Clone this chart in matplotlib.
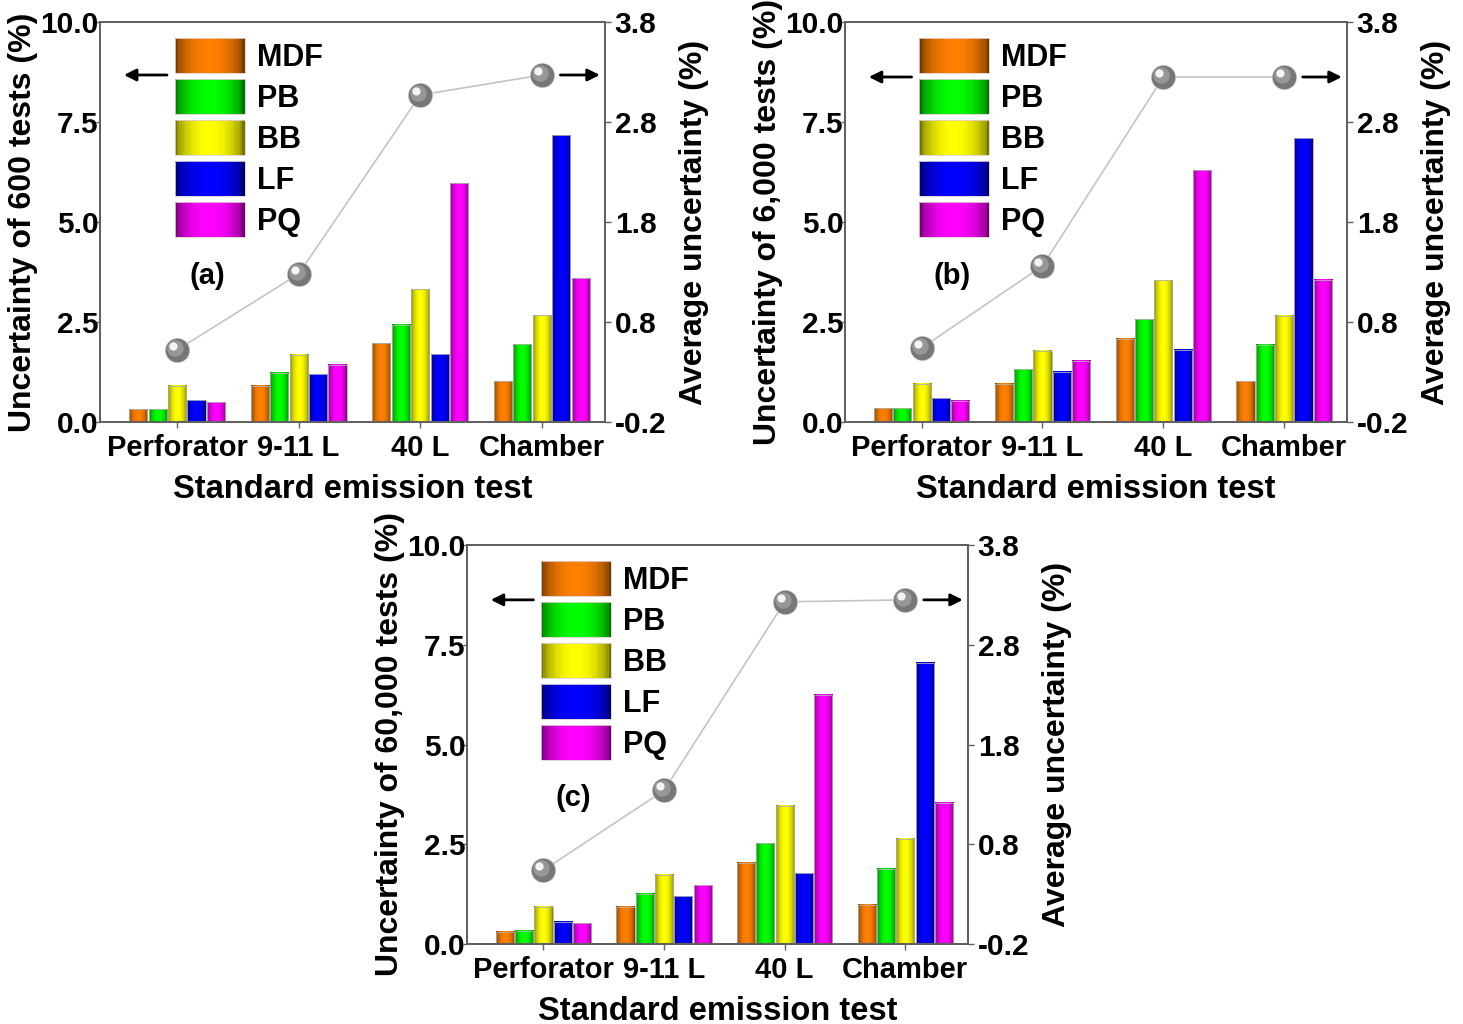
import numpy as np
import matplotlib
matplotlib.use("Agg")
import matplotlib.pyplot as plt
import matplotlib.transforms as mtransforms
from matplotlib.colors import to_rgb
from matplotlib.patches import Patch, Rectangle
from matplotlib.legend_handler import HandlerBase

plt.rcParams["font.family"] = ["Liberation Sans", "DejaVu Sans"]
plt.rcParams["font.weight"] = "bold"
plt.rcParams["axes.labelweight"] = "bold"

tests = ["Perforator", "9-11 L", "40 L", "Chamber"]
boards = ["MDF", "PB", "BB", "LF", "PQ"]
board_colours = ["#ff8000", "#00ff00", "#ffff00", "#0000ff", "#ff00ff"]

# uncertainty (%) per board (rows: MDF, PB, BB, LF, PQ) for each test
unc_600 = [
    [0.32, 0.91, 1.97, 1.02],
    [0.32, 1.23, 2.43, 1.95],
    [0.91, 1.68, 3.32, 2.67],
    [0.55, 1.20, 1.70, 7.17],
    [0.49, 1.43, 5.97, 3.59],
]
unc_6000 = [
    [0.34, 0.96, 2.08, 1.02],
    [0.34, 1.32, 2.57, 1.93],
    [0.96, 1.78, 3.54, 2.66],
    [0.59, 1.26, 1.81, 7.10],
    [0.53, 1.53, 6.30, 3.56],
]
unc_60000 = [
    [0.31, 0.93, 2.04, 0.98],
    [0.33, 1.26, 2.52, 1.89],
    [0.93, 1.73, 3.47, 2.64],
    [0.56, 1.20, 1.77, 7.05],
    [0.52, 1.47, 6.25, 3.54],
]

# average uncertainty (%) per test, right axis
avg_600 = [0.52, 1.28, 3.07, 3.27]
avg_6000 = [0.54, 1.36, 3.25, 3.25]
avg_60000 = [0.54, 1.34, 3.23, 3.25]

left_ticks = [0.0, 2.5, 5.0, 7.5, 10.0]
right_ticks = [-0.2, 0.8, 1.8, 2.8, 3.8]

spine_grey = "#606060"


def shade_profile(n):
    # horizontal "cylinder" shading: dark edges, bright centre
    t = np.linspace(0, 1, n)
    return 0.45 + 0.55 * np.sin(np.pi * t) ** 0.6


def shade_bar(ax, patch, colour):
    x0, y0 = patch.get_x(), patch.get_y()
    w, h = patch.get_width(), patch.get_height()
    light = shade_profile(64)
    img = np.array(to_rgb(colour))[None, None, :] * light[None, :, None]
    ax.imshow(np.clip(img, 0, 1), extent=[x0, x0 + w, y0, y0 + h],
              aspect="auto", zorder=2.5, interpolation="bilinear")


class ShadedHandler(HandlerBase):
    # legend key drawn as thin strips so it gets the same shading as the bars
    def create_artists(self, legend, orig_handle, xdescent, ydescent,
                       width, height, fontsize, trans):
        base = np.array(to_rgb(orig_handle.get_facecolor()))
        n = 30
        light = shade_profile(n)
        sw = width / n
        arts = []
        for k in range(n):
            r = Rectangle((-xdescent + k * sw, -ydescent), sw * 1.05, height,
                          facecolor=np.clip(base * light[k], 0, 1),
                          edgecolor="none", transform=trans)
            arts.append(r)
        arts.append(Rectangle((-xdescent, -ydescent), width, height,
                              facecolor="none", edgecolor="#e0d0d0",
                              linewidth=0.6, transform=trans))
        return arts


def draw_panel(fig, rect, unc, avg, ylabel, tag):
    ax = fig.add_axes(rect)
    x = np.arange(len(tests))
    width = 0.15
    step = 0.16
    for i, (name, col) in enumerate(zip(boards, board_colours)):
        bars = ax.bar(x + (i - 2) * step, unc[i], width, color=col,
                      edgecolor="#b0b0b0", linewidth=0.6, zorder=2)
        for b in bars:
            shade_bar(ax, b, col)
            b.set_facecolor("none")
            b.set_zorder(3)

    ax.set_xlim(-0.634, 3.52)
    ax.set_ylim(0, 10)
    ax.set_yticks(left_ticks)
    ax.set_yticklabels(["%.1f" % v for v in left_ticks])
    ax.set_xticks(x)
    ax.set_xticklabels(tests)
    ax.set_ylabel(ylabel, fontsize=23, labelpad=2)
    ax.set_xlabel("Standard emission test", fontsize=23.5, labelpad=8)
    ax.tick_params(axis="y", direction="out", length=3, width=1,
                   color=spine_grey, labelsize=21.5, pad=-2)
    ax.tick_params(axis="x", direction="out", length=4, width=1,
                   color=spine_grey, labelsize=21, pad=5)

    ax2 = ax.twinx()
    ax2.set_ylim(-0.2, 3.8)
    ax2.set_yticks(right_ticks)
    ax2.set_yticklabels(["%.1f" % v for v in right_ticks])
    ax2.set_ylabel("Average uncertainty (%)", fontsize=23, labelpad=9)
    ax2.tick_params(direction="out", length=4, width=1, color=spine_grey,
                    labelsize=21.5, pad=3)
    for a in (ax, ax2):
        for s in a.spines.values():
            s.set_color(spine_grey)
            s.set_linewidth(1.3)

    ax2.plot(x, avg, color="#c4c4c4", lw=1.2, zorder=1)
    # grey spheres: dark body, lighter core, white highlight
    ax2.scatter(x, avg, s=330, color="#d8d8d8", zorder=4, linewidths=0)
    ax2.scatter(x, avg, s=290, color="#777777", zorder=5, linewidths=0)
    mid = mtransforms.offset_copy(ax2.transData, fig=fig, x=-2, y=2, units="dots")
    ax2.scatter(x, avg, s=140, color="#979797", zorder=6, linewidths=0,
                transform=mid)
    hi = mtransforms.offset_copy(ax2.transData, fig=fig, x=-4, y=4, units="dots")
    ax2.scatter(x, avg, s=35, color="#f4f4f4", zorder=7, linewidths=0,
                transform=hi)

    # arrows pointing to the axis each series belongs to
    ax2.annotate("", xy=(-0.46, avg[-1]), xytext=(-0.06, avg[-1]),
                 arrowprops=dict(arrowstyle="-|>", color="black", lw=2,
                                 mutation_scale=18), zorder=8)
    ax2.annotate("", xy=(3.5, avg[-1]), xytext=(3.13, avg[-1]),
                 arrowprops=dict(arrowstyle="-|>", color="black", lw=2,
                                 mutation_scale=18), zorder=8)

    ax.text(0.25, 3.65, tag, fontsize=21, ha="center", va="center")

    handles = [Patch(facecolor=c) for c in board_colours]
    leg = ax2.legend(handles, boards, loc="upper left",
                     bbox_to_anchor=(0.148, 0.96), frameon=False,
                     fontsize=22, handlelength=2.29, handleheight=1.38,
                     labelspacing=0.2, handletextpad=0.39, borderpad=0,
                     borderaxespad=0,
                     handler_map={Patch: ShadedHandler()})
    leg.set_zorder(9)
    return ax, ax2


fig = plt.figure(figsize=(14.63, 10.24), dpi=100)

draw_panel(fig, [100 / 1463, 1 - 422 / 1024, 505 / 1463, 400 / 1024],
           unc_600, avg_600, "Uncertainty of 600 tests (%)", "(a)")
draw_panel(fig, [845 / 1463, 1 - 422 / 1024, 502 / 1463, 400 / 1024],
           unc_6000, avg_6000, "Uncertainty of 6,000 tests (%)", "(b)")
draw_panel(fig, [467 / 1463, 1 - 944 / 1024, 501 / 1463, 399 / 1024],
           unc_60000, avg_60000, "Uncertainty of 60,000 tests (%)", "(c)")

fig.savefig("out.png", dpi=100)
